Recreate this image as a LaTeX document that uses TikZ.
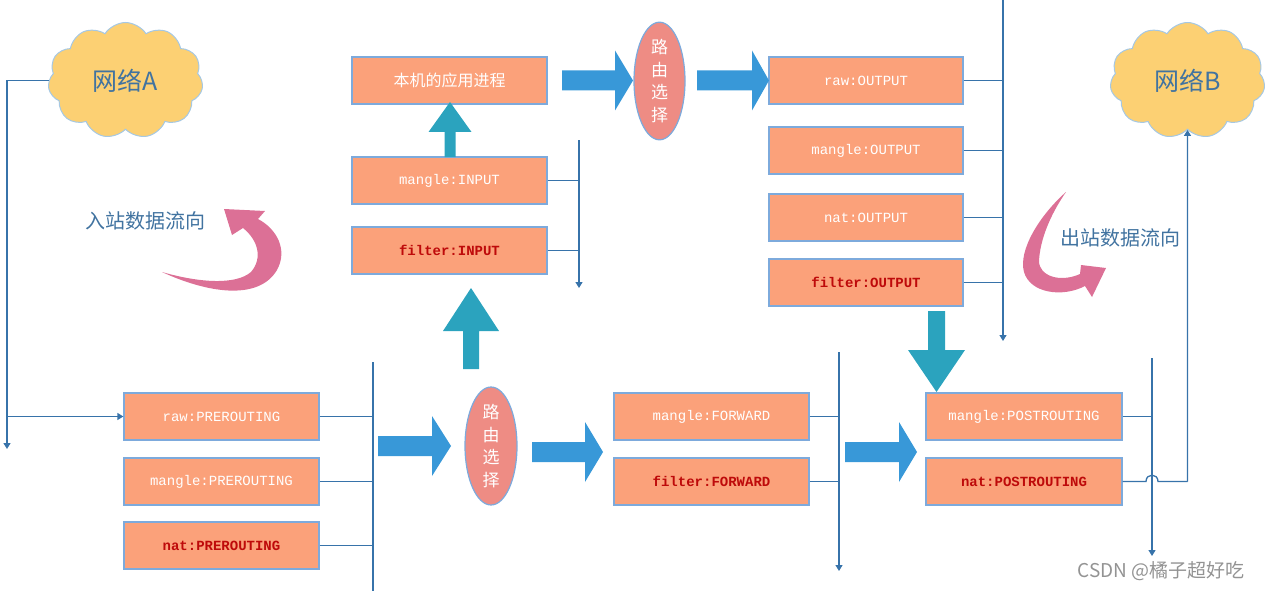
\documentclass[tikz,border=0pt]{standalone}
\usepackage{fontspec}
\setmonofont{Liberation Mono}
\newfontfamily\cjk{Noto Sans CJK SC}
\usetikzlibrary{shapes.geometric,shapes.symbols,arrows.meta}
\definecolor{boxfill}{RGB}{251,161,122}
\definecolor{boxline}{RGB}{125,170,220}
\definecolor{wire}{RGB}{55,115,170}
\definecolor{bblue}{RGB}{56,152,216}
\definecolor{teal}{RGB}{43,163,190}
\definecolor{pinkarr}{RGB}{220,112,150}
\definecolor{ellfill}{RGB}{238,140,132}
\definecolor{cloudfill}{RGB}{252,208,115}
\definecolor{cloudline}{RGB}{165,200,228}
\definecolor{darkred}{RGB}{190,10,10}
\definecolor{labblue}{RGB}{65,115,160}
\tikzset{
  chain/.style={rectangle, draw=boxline, fill=boxfill, line width=1.3pt,
    minimum width=195pt, minimum height=47pt, inner sep=0pt,
    text=white, font=\ttfamily\fontsize{14}{16}\selectfont},
  redchain/.style={chain, text=darkred, font=\ttfamily\bfseries\fontsize{14}{16}\selectfont},
  appbox/.style={chain, font=\cjk\fontsize{16}{18}\selectfont},
  route/.style={ellipse, draw=boxline, fill=ellfill, line width=1.2pt,
    minimum width=51pt, minimum height=116pt, inner sep=0pt, text=white,
    align=center, font=\cjk\fontsize{17}{22.5}\selectfont},
  net/.style={cloud, cloud puffs=11, cloud puff arc=115, cloud ignores aspect,
    draw=cloudline, fill=cloudfill, line width=1pt, minimum width=155pt,
    minimum height=116pt, inner sep=0pt, text=labblue, font=\cjk\fontsize{25}{28}\selectfont},
  wireline/.style={draw=wire, line width=1.3pt},
  wirearrow/.style={wireline, -{Triangle[length=6pt,width=7pt]}},
  bigblue/.style={fill=bblue},
  bigteal/.style={fill=teal},
  curly/.style={fill=pinkarr},
  flowlabel/.style={text=labblue, font=\cjk\fontsize{20}{22}\selectfont},
  watermark/.style={text=gray!85, font=\cjk\fontsize{19}{21}\selectfont}
}
\begin{document}
\begin{tikzpicture}[x=1pt,y=-1pt]
\useasboundingbox (0,0) rectangle (1268,591);

% clouds
\node[net] (cA) at (125.5,80.5) {网络A};
\node[net] (cB) at (1187.5,80.5) {网络B};

% boxes
\node[appbox] (app) at (449.5,80.5) {本机的应用进程};
\node[chain] (mIN) at (449.5,180.5) {mangle:INPUT};
\node[redchain] (fIN) at (449.5,250.5) {filter:INPUT};

\node[chain, minimum width=194pt] (rOUT) at (866,80.5) {raw:OUTPUT};
\node[chain, minimum width=194pt] (mOUT) at (866,150.5) {mangle:OUTPUT};
\node[chain, minimum width=194pt] (nOUT) at (866,217.5) {nat:OUTPUT};
\node[redchain, minimum width=194pt] (fOUT) at (866,282.5) {filter:OUTPUT};

\node[chain] (rPRE) at (221.5,416.5) {raw:PREROUTING};
\node[chain] (mPRE) at (221.5,481.5) {mangle:PREROUTING};
\node[redchain] (nPRE) at (221.5,545.5) {nat:PREROUTING};

\node[chain] (mFWD) at (711.5,416.5) {mangle:FORWARD};
\node[redchain] (fFWD) at (711.5,481.5) {filter:FORWARD};

\node[chain, minimum width=196pt] (mPOST) at (1024,416.5) {mangle:POSTROUTING};
\node[redchain, minimum width=196pt] (nPOST) at (1024,481.5) {nat:POSTROUTING};

% routing decisions
\node[route] (rt1) at (659.5,81) {路\\由\\选\\择};
\node[route, minimum width=52pt, minimum height=118pt] (rt2) at (491,446) {路\\由\\选\\择};

% labels
\node[flowlabel] (inlab) at (145,221) {入站数据流向};
\node[flowlabel] (outlab) at (1120,238) {出站数据流向};
\node[watermark] (wm) at (1161,571) {CSDN @橘子超好吃};

% network A feed
\coordinate (aEnd) at (7,449);
\coordinate (aBr) at (7,416.5);
\draw[wirearrow] (cA.west) -| (aEnd);
\draw[wirearrow] (aBr) -- (rPRE.west);

% INPUT bus
\coordinate (inTop) at (579,140);
\coordinate (inBot) at (579,288);
\draw[wirearrow] (inTop) -- (inBot);
\draw[wireline] (mIN.east) -- (mIN.east -| inTop);
\draw[wireline] (fIN.east) -- (fIN.east -| inTop);

% OUTPUT bus
\coordinate (outTop) at (1003,0);
\coordinate (outBot) at (1003,341);
\draw[wirearrow] (outTop) -- (outBot);
\foreach \b in {rOUT,mOUT,nOUT,fOUT}{\draw[wireline] (\b.east) -- (\b.east -| outTop);}

% PREROUTING bus
\coordinate (preTop) at (373,362);
\coordinate (preBot) at (373,591);
\draw[wireline] (preTop) -- (preBot);
\foreach \b in {rPRE,mPRE,nPRE}{\draw[wireline] (\b.east) -- (\b.east -| preTop);}

% FORWARD bus
\coordinate (fwTop) at (839,352);
\coordinate (fwBot) at (839,571);
\draw[wirearrow] (fwTop) -- (fwBot);
\foreach \b in {mFWD,fFWD}{\draw[wireline] (\b.east) -- (\b.east -| fwTop);}

% POSTROUTING bus
\coordinate (poTop) at (1152,358);
\coordinate (poBot) at (1152,556);
\draw[wirearrow] (poTop) -- (poBot);
\draw[wireline] (mPOST.east) -- (mPOST.east -| poTop);

% nat:POSTROUTING to network B, hopping over the bus
\coordinate (hopL) at (1146,481.5);
\coordinate (hopR) at (1158,481.5);
\coordinate (bCorner) at (1187.5,481.5);
\draw[wireline] (nPOST.east) -- (hopL) .. controls (1146,473) and (1158,473) .. (hopR) -- (bCorner);
\draw[wirearrow] (bCorner) -- (cB.south);

% big blue right arrows
\fill[bigblue] (562,70.5) -- (615,70.5) -- (615,50.5) -- (633,80.5) -- (615,110.5) -- (615,90.5) -- (562,90.5) -- cycle;
\fill[bigblue] (697,70.5) -- (752,70.5) -- (752,50.5) -- (769,80.5) -- (752,110.5) -- (752,90.5) -- (697,90.5) -- cycle;
\fill[bigblue] (378,436) -- (432,436) -- (432,416) -- (451,446) -- (432,476) -- (432,456) -- (378,456) -- cycle;
\fill[bigblue] (532,442) -- (585,442) -- (585,422) -- (603,452) -- (585,482) -- (585,462) -- (532,462) -- cycle;
\fill[bigblue] (845,442) -- (899,442) -- (899,422) -- (917,452) -- (899,482) -- (899,462) -- (845,462) -- cycle;

% teal arrows
\fill[bigteal] (444.5,157) -- (444.5,132) -- (428.5,132) -- (450,102) -- (471.5,132) -- (455.5,132) -- (455.5,157) -- cycle;
\fill[bigteal] (463,369) -- (463,331) -- (443,331) -- (471,288) -- (499,331) -- (479,331) -- (479,369) -- cycle;
\fill[bigteal] (928,311) -- (945,311) -- (945,350) -- (965,350) -- (936.5,392) -- (908,350) -- (928,350) -- cycle;

% curved flow arrows
\fill[curly] (162,272) .. controls (205,292) and (258,302) .. (277,270)
  .. controls (288,250) and (277,229) .. (258,219) -- (265,211) -- (224,209) -- (232,235) -- (243,228)
  .. controls (258,240) and (263,258) .. (251,272) .. controls (236,285) and (200,283) .. (162,272) -- cycle;
\fill[curly] (1066,192) .. controls (1040,215) and (1018,250) .. (1024,272)
  .. controls (1030,293) and (1062,298) .. (1085,286) -- (1092,297) -- (1106,268) -- (1081,265) -- (1080,274)
  .. controls (1060,283) and (1039,276) .. (1039,261) .. controls (1040,240) and (1050,215) .. (1066,192) -- cycle;
\end{tikzpicture}
\end{document}
